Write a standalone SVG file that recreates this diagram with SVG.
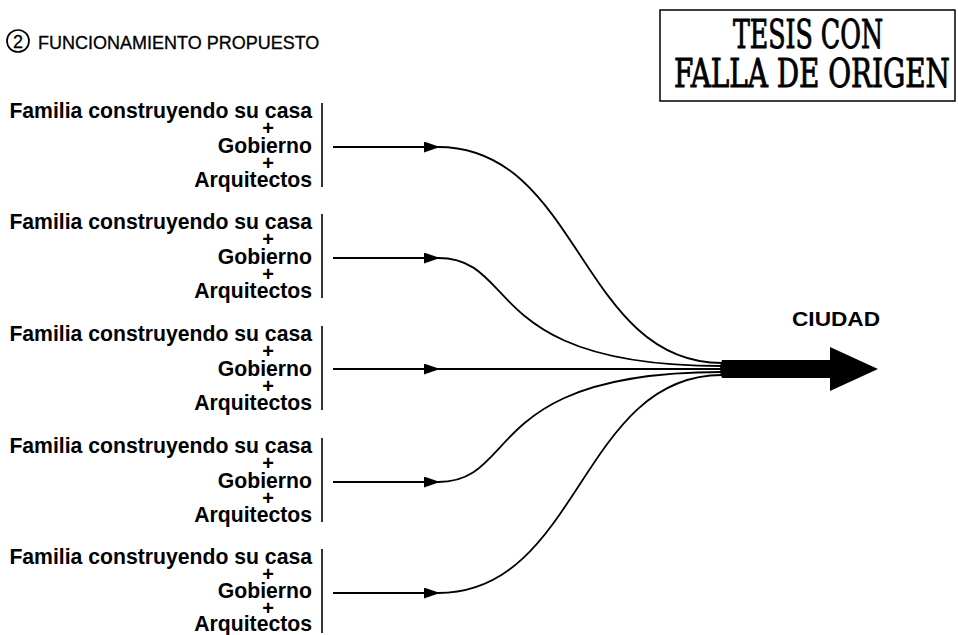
<svg xmlns="http://www.w3.org/2000/svg" width="958" height="635" viewBox="0 0 958 635">
  <style>
    .lbl { font-family: "Liberation Sans", Arial, sans-serif; font-size: 21.2px; font-weight: bold; fill: #000; text-anchor: end; }
    .plus { font-family: "Liberation Sans", Arial, sans-serif; font-size: 20px; font-weight: bold; fill: #000; text-anchor: middle; }
    .bar { stroke: #000; stroke-width: 1.6; fill: none; }
    .conn { stroke: #000; stroke-width: 1.8; fill: none; }
    .title { font-family: "Liberation Sans", Arial, sans-serif; font-size: 18px; fill: #000; stroke: #000; stroke-width: 0.3; }
    .stamp { font-family: "DejaVu Serif Condensed", "DejaVu Serif", "Liberation Serif", serif; font-size: 40px; fill: #000; stroke: #000; stroke-width: 0.9; text-anchor: middle; }
  </style>
  <defs>
    <marker id="ah" markerUnits="userSpaceOnUse" markerWidth="16" markerHeight="11" refX="16" refY="5.5" orient="auto">
      <path d="M0,0 L16,5.5 L0,11 z" fill="#000"/>
    </marker>
  </defs>
  <rect width="958" height="635" fill="#fff"/>

  <g id="title">
    <circle cx="18" cy="41" r="11" fill="none" stroke="#000" stroke-width="1.7"/>
    <text x="18" y="47.5" class="title" text-anchor="middle" font-size="18">2</text>
    <text x="38" y="49" class="title">FUNCIONAMIENTO PROPUESTO</text>
  </g>

  <g id="stamp">
    <rect x="660" y="10" width="295" height="91" fill="none" stroke="#000" stroke-width="1.5"/>
    <text x="808" y="48" class="stamp" textLength="150" lengthAdjust="spacingAndGlyphs">TESIS CON</text>
    <text x="812" y="87" class="stamp" textLength="276" lengthAdjust="spacingAndGlyphs">FALLA DE ORIGEN</text>
  </g>

  <g id="group1">
    <text x="312" y="118" class="lbl">Familia construyendo su casa</text>
    <text x="268" y="135" class="plus">+</text>
    <text x="312" y="153" class="lbl">Gobierno</text>
    <text x="268" y="170" class="plus">+</text>
    <text x="312" y="187" class="lbl">Arquitectos</text>
    <line x1="322" y1="103" x2="322" y2="187" class="bar"/>
  </g>
  <g id="group2">
    <text x="312" y="229" class="lbl">Familia construyendo su casa</text>
    <text x="268" y="246" class="plus">+</text>
    <text x="312" y="264" class="lbl">Gobierno</text>
    <text x="268" y="281" class="plus">+</text>
    <text x="312" y="298" class="lbl">Arquitectos</text>
    <line x1="322" y1="214" x2="322" y2="298" class="bar"/>
  </g>
  <g id="group3">
    <text x="312" y="341" class="lbl">Familia construyendo su casa</text>
    <text x="268" y="358" class="plus">+</text>
    <text x="312" y="376" class="lbl">Gobierno</text>
    <text x="268" y="393" class="plus">+</text>
    <text x="312" y="410" class="lbl">Arquitectos</text>
    <line x1="322" y1="326" x2="322" y2="410" class="bar"/>
  </g>
  <g id="group4">
    <text x="312" y="453" class="lbl">Familia construyendo su casa</text>
    <text x="268" y="470" class="plus">+</text>
    <text x="312" y="488" class="lbl">Gobierno</text>
    <text x="268" y="505" class="plus">+</text>
    <text x="312" y="522" class="lbl">Arquitectos</text>
    <line x1="322" y1="438" x2="322" y2="522" class="bar"/>
  </g>
  <g id="group5">
    <text x="312" y="564" class="lbl">Familia construyendo su casa</text>
    <text x="268" y="581" class="plus">+</text>
    <text x="312" y="598" class="lbl">Gobierno</text>
    <text x="268" y="615" class="plus">+</text>
    <text x="312" y="631" class="lbl">Arquitectos</text>
    <line x1="322" y1="549" x2="322" y2="633" class="bar"/>
  </g>

  <g id="ciudad">
    <text x="836" y="326" font-family="Liberation Sans, Arial, sans-serif" font-size="20" font-weight="bold" fill="#000" text-anchor="middle" textLength="88" lengthAdjust="spacingAndGlyphs">CIUDAD</text>
    <path d="M722,360 L830,360 L830,347 L878,369 L830,391 L830,378 L722,378 Q718,369 722,360 z" fill="#000"/>
  </g>

  <g id="connectors">
    <line x1="333" y1="147" x2="440" y2="147" class="conn" marker-end="url(#ah)"/>
    <line x1="333" y1="258" x2="440" y2="258" class="conn" marker-end="url(#ah)"/>
    <line x1="333" y1="369" x2="440" y2="369" class="conn" marker-end="url(#ah)"/>
    <line x1="333" y1="482" x2="440" y2="482" class="conn" marker-end="url(#ah)"/>
    <line x1="333" y1="593" x2="440" y2="593" class="conn" marker-end="url(#ah)"/>
    <path d="M438,147 C580,147 580,363 722,363" class="conn"/>
    <path d="M438,258 C520,258 480,366 722,366" class="conn"/>
    <path d="M438,369 L722,369" class="conn"/>
    <path d="M438,482 C520,482 480,372 722,372" class="conn"/>
    <path d="M438,593 C580,593 580,375 722,375" class="conn"/>
  </g>
</svg>
